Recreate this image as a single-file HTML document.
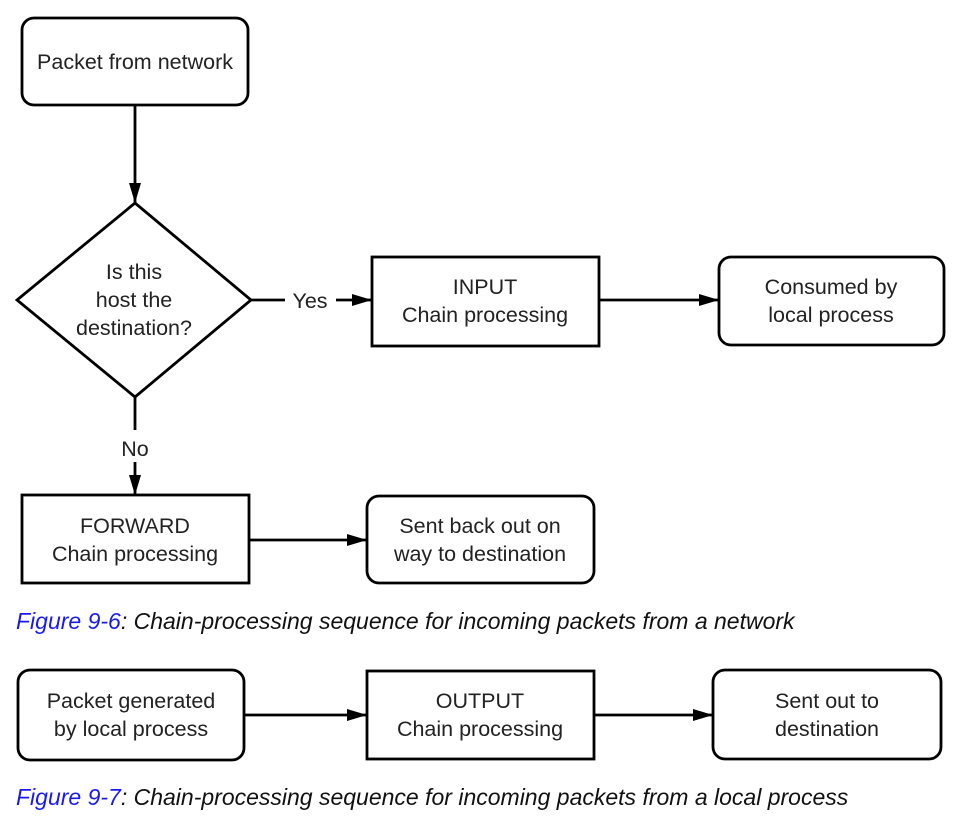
<!DOCTYPE html>
<html><head><meta charset="utf-8"><style>
html,body{margin:0;padding:0;background:#fff;}
svg{display:block;}
text{font-family:"Liberation Sans",sans-serif;font-size:21.5px;fill:#222;}
.cap{font-style:italic;font-size:23px;fill:#111;}
</style></head><body>
<svg width="965" height="820" viewBox="0 0 965 820" xmlns="http://www.w3.org/2000/svg">
<defs>
<marker id="b" viewBox="0 0 20 12" refX="20" refY="6" markerWidth="20" markerHeight="12" markerUnits="userSpaceOnUse" orient="auto"><path d="M0,0 L20,6 L0,12 z" fill="#000"/></marker></defs>
<g fill="none" stroke="#000" stroke-width="2.8">
<rect x="22" y="18" width="226" height="87" rx="12"/>
<polygon points="135,203 251,300 135,397 17,300"/>
<rect x="372" y="257" width="227" height="89"/>
<rect x="719" y="257" width="225" height="88" rx="12"/>
<rect x="22" y="495" width="227" height="88"/>
<rect x="367" y="496" width="227" height="87" rx="12"/>
<rect x="18" y="670" width="226" height="90" rx="12"/>
<rect x="367" y="671" width="227" height="88"/>
<rect x="713" y="670" width="228" height="89" rx="12"/>
<line x1="135" y1="105" x2="135" y2="203" marker-end="url(#b)"/>
<line x1="251" y1="300" x2="285" y2="300"/>
<line x1="336" y1="300" x2="372" y2="300" marker-end="url(#b)"/>
<line x1="135" y1="397" x2="135" y2="430"/>
<line x1="135" y1="462" x2="135" y2="495" marker-end="url(#b)"/>
<line x1="599" y1="300" x2="719" y2="300" marker-end="url(#b)"/>
<line x1="249" y1="540" x2="367" y2="540" marker-end="url(#b)"/>
<line x1="244" y1="715" x2="367" y2="715" marker-end="url(#b)"/>
<line x1="594" y1="715" x2="713" y2="715" marker-end="url(#b)"/>
</g>
<g text-anchor="middle">
<text x="135" y="69">Packet from network</text>
<text x="134" y="279">Is this</text>
<text x="134" y="307">host the</text>
<text x="134" y="335">destination?</text>
<text x="310" y="308">Yes</text>
<text x="135" y="456">No</text>
<text x="485" y="294">INPUT</text>
<text x="485" y="322">Chain processing</text>
<text x="831" y="294">Consumed by</text>
<text x="831" y="322">local process</text>
<text x="135" y="533">FORWARD</text>
<text x="135" y="561">Chain processing</text>
<text x="480" y="533">Sent back out on</text>
<text x="480" y="561">way to destination</text>
<text x="131" y="708">Packet generated</text>
<text x="131" y="736">by local process</text>
<text x="480" y="708">OUTPUT</text>
<text x="480" y="736">Chain processing</text>
<text x="827" y="708">Sent out to</text>
<text x="827" y="736">destination</text>
</g>
<text class="cap" x="16" y="629"><tspan fill="#1a1aee">Figure 9-6</tspan>: Chain-processing sequence for incoming packets from a network</text>
<text class="cap" x="16" y="805"><tspan fill="#1a1aee">Figure 9-7</tspan>: Chain-processing sequence for incoming packets from a local process</text>
</svg>
</body></html>
